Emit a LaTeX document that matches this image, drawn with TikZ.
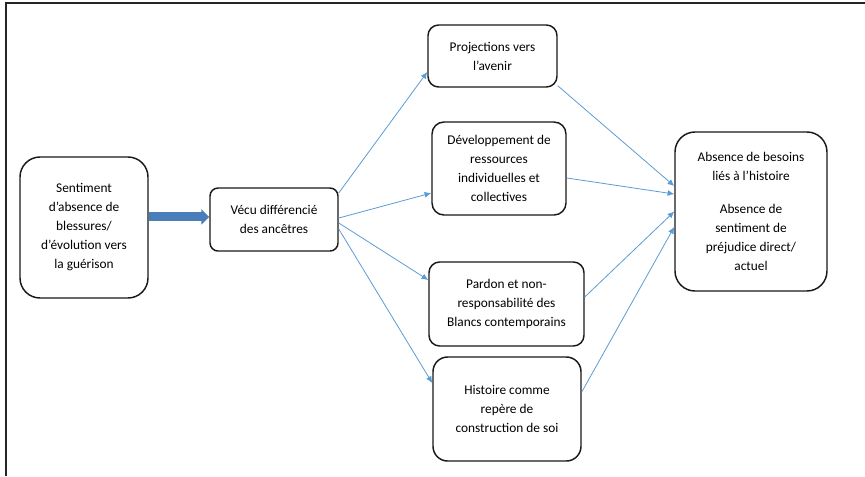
\documentclass[tikz,border=0pt]{standalone}
\usepackage{fontspec}
\setmainfont{Carlito}
\usetikzlibrary{arrows.meta}
\definecolor{linkblue}{HTML}{5B9BD5}
\definecolor{fatblue}{HTML}{4A7EBB}

\begin{document}
\begin{tikzpicture}[x=0.75pt, y=-0.75pt,
    box/.style={draw=black!90, line width=1.1pt, fill=white, align=center, inner sep=0pt,
        font=\fontsize{10}{14.25}\selectfont},
    link/.style={draw=linkblue, line width=0.6pt, -{Latex[length=5pt,width=4.5pt]}}]
        \useasboundingbox (0,0) rectangle (865,476);
        \draw[line width=1.5pt, black!85] (865,3) -- (6,3) -- (6,476);
        \node[box, rounded corners=15pt, minimum width=96pt, minimum height=105.75pt] (feel) at (84,227.5)
            {Sentiment\\d’absence de\\blessures/\\d’évolution vers\\la guérison};
        \node[box, rounded corners=6pt, minimum width=96pt, minimum height=47.25pt] (lived) at (274,219.5)
            {Vécu différencié\\des ancêtres};
        \node[box, rounded corners=8pt, minimum width=96.75pt, minimum height=46.5pt] (future) at (492.5,56)
            {Projections vers\\l’avenir};
        \node[box, rounded corners=9pt, minimum width=100.5pt, minimum height=69.75pt] (resources) at (499,168.5)
            {Développement de\\ressources\\individuelles et\\collectives};
        \node[box, rounded corners=8pt, minimum width=116.25pt, minimum height=63pt] (pardon) at (506.5,304)
            {Pardon et non-\\responsabilité des\\Blancs contemporains};
        \node[box, rounded corners=11pt, minimum width=111pt, minimum height=78pt] (history) at (507,409)
            {Histoire comme\\repère de\\construction de soi};
        \node[box, rounded corners=15pt, minimum width=114pt, minimum height=119.25pt] (absence) at (751,211.5)
            {Absence de besoins\\liés à l’histoire\\[10pt]Absence de\\sentiment de\\préjudice direct/\\actuel};
        \coordinate (in) at ([yshift=1.9pt]lived.west);
        \draw[fatblue, line width=6.75pt, -{Triangle[length=6pt,width=11.25pt]}] (feel.east |- in) -- (in);
        \foreach \t/\a/\b in {future/19.9/-12, resources/1.1/-18.4, pardon/-2.6/18, history/-7.1/19.5} {
            \draw[link] ([yshift=\a pt]lived.east) -- ([yshift=\b pt]\t.west);
        }
        \foreach \s/\a/\b in {future.south east/1.5/19.1, resources.east/-7.1/13.1, pardon.east/5.25/0, history.east/12.75/-11.6} {
            \draw[link] ([yshift=\a pt]\s) -- ([yshift=\b pt]absence.west);
        }
    \end{tikzpicture}
\end{document}
